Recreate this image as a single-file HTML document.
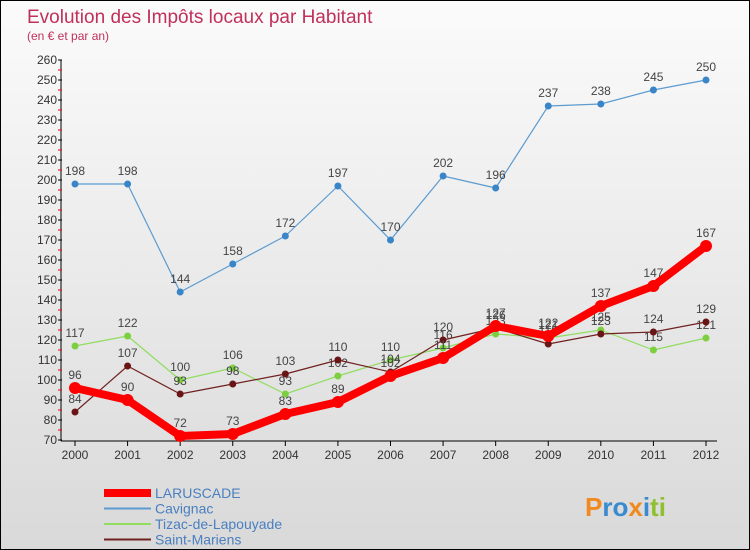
<!DOCTYPE html>
<html><head><meta charset="utf-8"><style>
html,body{margin:0;padding:0}
body{width:750px;height:550px;overflow:hidden;font-family:"Liberation Sans",sans-serif}
#wrap{position:absolute;left:0;top:0;width:748px;height:548px;border:1px solid #000;background:linear-gradient(#fbfbfb,#d9d9d9)}
</style></head><body>
<div id="wrap">
<svg id="chart" width="748" height="548" style="position:absolute;left:0;top:0"></svg>
</div>
<script>
const years=[2000,2001,2002,2003,2004,2005,2006,2007,2008,2009,2010,2011,2012];
const laruscade=[96,90,72,73,83,89,102,111,127,122,137,147,167];
const cavignac=[198,198,144,158,172,197,170,202,196,237,238,245,250];
const tizac=[117,122,100,106,93,102,110,116,123,121,125,115,121];
const stMariens=[84,107,93,98,103,110,104,120,126,118,123,124,129];
const yTicks=[70,80,90,100,110,120,130,140,150,160,170,180,190,200,210,220,230,240,250,260];
const seriesNames=["LARUSCADE","Cavignac","Tizac-de-Lapouyade","Saint-Mariens"];
const NS="http://www.w3.org/2000/svg";
const svg=document.getElementById('chart');
function xS(i){return 74+i*(705-74)/(years.length-1);}
function yS(v){return 439-(v-70)*(439-59)/190;}
function mk(t,a,p){const e=document.createElementNS(NS,t);for(const k in a)e.setAttribute(k,a[k]);(p||svg).appendChild(e);return e;}
const title=mk('text',{x:26,y:22,'font-size':19,fill:'#c0305a'});title.textContent="Evolution des Impôts locaux par Habitant";


const sub=mk('text',{x:26,y:39,'font-size':12,fill:'#c0305a'});sub.textContent="(en € et par an)";


// axes
const ax=mk('line',{x1:60,y1:59,x2:60,y2:440,stroke:'#000'});


const bx=mk('line',{x1:60,y1:440,x2:716,y2:440,stroke:'#000'});


yTicks.forEach(v=>{
  mk('line',{x1:57,y1:yS(v),x2:61,y2:yS(v),stroke:'#000'});
  if(v<260)mk('line',{x1:57,y1:yS(v+5),x2:61,y2:yS(v+5),stroke:'#e00'});
  const t=mk('text',{x:56,y:yS(v)+4,'font-size':12,fill:'#333','text-anchor':'end'});t.textContent=v;
  
  
});
years.forEach((y,i)=>{
  mk('line',{x1:xS(i),y1:440,x2:xS(i),y2:445,stroke:'#000'});
  const t=mk('text',{x:xS(i),y:458,'font-size':12,fill:'#333','text-anchor':'middle'});t.textContent=y;
  
  
});
function series(data,color,w,r,dot,name){
  const g=mk('g',{});
  
  
  mk('polyline',{points:data.map((v,i)=>xS(i)+','+yS(v)).join(' '),fill:'none',stroke:color,'stroke-width':w,'stroke-linejoin':'round'},g);
  data.forEach((v,i)=>{
    const c=mk('circle',{cx:xS(i),cy:yS(v),r:r,fill:dot},g);
    
    
    const t=mk('text',{x:xS(i),y:yS(v)-9,'font-size':12,fill:'#444','text-anchor':'middle'},g);t.textContent=v;
    
    
  });
}
series(cavignac,'#5b9bd0',1.2,3.5,'#3a85c8','cavignac-series');
series(tizac,'#90dd60',1.2,3.5,'#7cd040','tizac-series');
series(stMariens,'#702020',1.2,3.5,'#6a1515','saint-mariens-series');
series(laruscade,'#f00',8,6,'#f00','laruscade-series');
// legend
const leg=[['#f00',8],['#5b9bd0',2],['#90dd60',2],['#702020',2]];
seriesNames.forEach((n,i)=>{
  const y=492+i*15.5;
  const l=mk('line',{x1:103,y1:y,x2:150,y2:y,stroke:leg[i][0],'stroke-width':leg[i][1]});
  
  
  const t=mk('text',{x:154,y:y+5,'font-size':14,fill:'#4a7fc0'});t.textContent=n;
  
  
});
const logo=mk('text',{x:584,y:515,'font-size':26,'font-weight':'bold',fill:'#3a8ad0'});
logo.innerHTML='<tspan fill="#f08a20">P</tspan><tspan fill="#3a8ad0">ro</tspan><tspan fill="#f08a20">x</tspan><tspan fill="#3a8ad0">i</tspan><tspan fill="#90c030">ti</tspan>';


</script>
</body></html>
